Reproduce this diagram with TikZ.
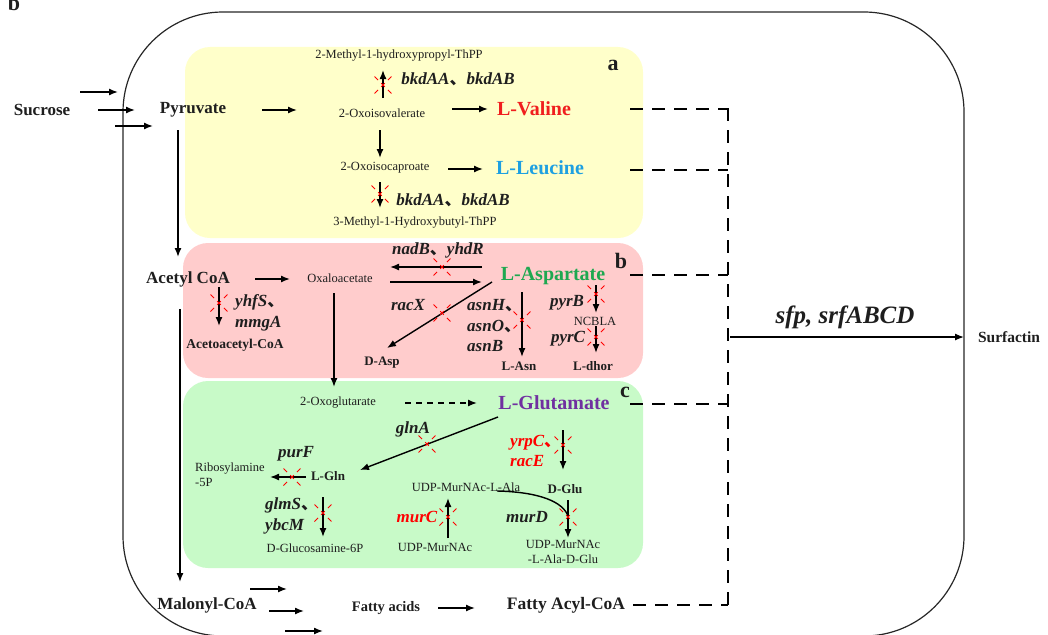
\documentclass[tikz,border=0pt]{standalone}
\usepackage{fontspec}
\setmainfont{Liberation Serif}
\newfontfamily\cjk{Noto Sans CJK SC}
\usetikzlibrary{arrows.meta}
\newcommand\myDun{{\cjk 、}}
\definecolor{boxY}{RGB}{255,255,202}
\definecolor{boxP}{RGB}{255,204,204}
\definecolor{boxG}{RGB}{200,250,200}
\definecolor{cVal}{RGB}{240,30,30}
\definecolor{cLeu}{RGB}{30,160,225}
\definecolor{cAsp}{RGB}{30,168,80}
\definecolor{cGlu}{RGB}{112,48,160}
\definecolor{txt}{RGB}{30,30,30}
\tikzset{
  arr/.style={draw=black, line width=1.4pt, -{Latex[length=9pt,width=7pt]}},
  dsh/.style={draw=black, line width=2.6pt, dash pattern=on 13pt off 9pt},
  sm/.style={font=\fontsize{12.5}{14}\selectfont, text=txt, inner sep=0pt},
  smb/.style={font=\fontsize{13}{15}\selectfont\bfseries, text=txt, inner sep=0pt},
  big/.style={font=\fontsize{17}{19}\selectfont\bfseries, text=txt, inner sep=0pt},
  aa/.style={font=\fontsize{20}{22}\selectfont\bfseries, inner sep=0pt},
  gene/.style={font=\fontsize{17}{20.5}\selectfont\bfseries\itshape, text=txt, inner sep=0pt, align=left},
  lett/.style={font=\fontsize{22}{24}\selectfont\bfseries, text=txt, inner sep=0pt},
  region/.style={rounded corners=25pt, draw=none},
  cut/.pic={\draw[red, line width=1pt, dash pattern=on 5pt off 4.5pt, dash phase=0pt] (-8.5,-8.5)--(8.5,8.5) (-8.5,8.5)--(8.5,-8.5);}
}
\begin{document}
\begin{tikzpicture}[x=1pt,y=-1pt]
\useasboundingbox (0,0) rectangle (1048,634);
% coloured regions
\fill[boxY, region] (185,47) rectangle (643,238);
\fill[boxP, region] (183,243) rectangle (643,378);
\fill[boxG, region] (183,381) rectangle (643,568);
% outer cell
\draw[line width=1.2pt, draw=black!85, rounded corners=100pt] (123,12) rectangle (964,636);

% partial panel letter (cut by the top edge)
\node[lett, anchor=base] (bl) at (14,11) {b};

% nodes
\node[big] (suc) at (42,110) {Sucrose};
\node[big] (pyr) at (193,110) {Pyruvate};
\node[sm] (mhp) at (399,56) {2-Methyl-1-hydroxypropyl-ThPP};
\node[lett] (la) at (613,65) {a};
\node[gene] (g1) at (458,79) {bkdAA\myDun bkdAB};
\node[sm] (oiv) at (382,113) {2-Oxoisovalerate};
\node[aa, text=cVal] (val) at (534,109) {L-Valine};
\node[sm] (oic) at (385,168) {2-Oxoisocaproate};
\node[aa, text=cLeu] (leu) at (540,168) {L-Leucine};
\node[gene] (g2) at (453,200) {bkdAA\myDun bkdAB};
\node[sm] (mhb) at (415,223) {3-Methyl-1-Hydroxybutyl-ThPP};

\node[big] (acc) at (188,279) {Acetyl CoA};
\node[sm] (oxa) at (340,278) {Oxaloacetate};
\node[aa, text=cAsp] (asp) at (553,276) {L-Aspartate};
\node[lett] (lb) at (621,261) {b};
\node[gene] (nad) at (438,250) {nadB\myDun yhdR};
\node[gene, anchor=west] (yhf) at (235,313) {yhfS\myDun\\mmgA};
\node[smb, font=\fontsize{13.5}{15}\selectfont\bfseries] (aca) at (235,345) {Acetoacetyl-CoA};
\node[smb] (dasp) at (382,363) {D-Asp};
\node[gene] (racx) at (408,305) {racX};
\node[gene, anchor=west] (asng) at (467,326) {asnH\myDun\\asnO\myDun\\asnB};
\node[smb] (lasn) at (519,366) {L-Asn};
\node[gene] (pyrb) at (567,303) {pyrB};
\node[sm] (ncbla) at (595,321) {NCBLA};
\node[gene] (pyrc) at (568,339) {pyrC};
\node[smb] (ldhor) at (593,366) {L-dhor};

\node[sm] (oxg) at (338,403) {2-Oxoglutarate};
\node[aa, text=cGlu] (glu) at (554,403) {L-Glutamate};
\node[lett] (lc) at (625,392) {c};
\node[gene] (glna) at (413,429) {glnA};
\node[gene, text=red, anchor=west] (yrpc) at (510,451) {yrpC\myDun\\racE};
\node[smb] (dglu) at (565,489) {D-Glu};
\node[sm] (uma) at (466,487) {UDP-MurNAc-L-Ala};
\node[gene] (murd) at (527,517) {murD};
\node[sm, align=center] (umag) at (563,552) {UDP-MurNAc\\[1pt]-L-Ala-D-Glu};
\node[gene, text=red] (murc) at (417,517) {murC};
\node[sm] (um) at (435,547) {UDP-MurNAc};
\node[gene] (purf) at (296,454) {purF};
\node[sm, align=left, anchor=west] (rib) at (195,475) {Ribosylamine\\[1pt]-5P};
\node[smb] (lgln) at (328,476) {L-Gln};
\node[gene, anchor=west] (glms) at (265,516) {glmS\myDun\\ybcM};
\node[sm] (dgl) at (315,548) {D-Glucosamine-6P};

\node[big] (mal) at (207,605) {Malonyl-CoA};
\node[big, font=\fontsize{14.5}{16}\selectfont\bfseries] (fa) at (386,608) {Fatty acids};
\node[big, font=\fontsize{17.5}{19}\selectfont\bfseries] (fac) at (566,605) {Fatty Acyl-CoA};
\node[big, font=\fontsize{15.5}{17}\selectfont\bfseries] (sur) at (1009,337) {Surfactin};
\node[font=\fontsize{25}{27}\selectfont\bfseries\itshape, text=txt, inner sep=0pt] (sfp) at (845,317) {sfp, srfABCD};

% sucrose arrows
\draw[arr] (80,92) -- (118,92);
\draw[arr] (98,110) -- (135,110);
\draw[arr] (115,126) -- (153,126);
\draw[arr] (262,110) -- (297,110);
\draw[arr] (178,130) -- (178,257);

% branched-chain
\draw[arr] (383,98) -- (383,70); \pic at (383,85) {cut};
\draw[arr] (452,109) -- (488,109);
\draw[arr] (380,130) -- (380,158);
\draw[arr] (448,169) -- (483,169);
\draw[arr] (380,182) -- (380,208); \pic at (380,194) {cut};

% aspartate region
\draw[arr] (255,279) -- (290,279);
\draw[arr] (219,287) -- (219,326); \pic at (219,303) {cut};
\draw[arr] (180,309) -- (180,582);
\draw[arr] (482,267) -- (390,267); \pic at (442,267) {cut};
\draw[arr] (390,282) -- (482,282);
\draw[arr] (334,293) -- (334,387);
\draw[arr] (492,282) -- (387,348); \pic at (442,313) {cut};
\draw[arr] (522,292) -- (522,357); \pic at (522,320) {cut};
\draw[arr] (596,285) -- (596,313); \pic at (596,294) {cut};
\draw[arr] (596,326) -- (596,353); \pic at (596,337) {cut};

% glutamate region
\draw[arr, dash pattern=on 6pt off 5pt] (405,403) -- (477,403);
\draw[arr] (498,417) -- (360,470); \pic at (427,444) {cut};
\draw[arr] (563,430) -- (563,470); \pic at (563,445) {cut};
\draw[arr] (306,477) -- (270,477); \pic at (292,477) {cut};
\draw[arr] (323,497) -- (323,537); \pic at (323,513) {cut};
\draw[arr] (448,538) -- (448,498); \pic at (448,517) {cut};
\draw[line width=1.4pt] (497,491) .. controls (540,492) and (563,502) .. (568,516);
\draw[arr] (568,500) -- (568,538); \pic at (568,517) {cut};

% fatty acids
\draw[arr] (250,589) -- (287,589);
\draw[arr] (269,611) -- (304,611);
\draw[arr] (285,631) -- (323,631);
\draw[arr] (438,608) -- (475,608);

% dashed collectors
\draw[dsh] (630,109) -- (728,109);
\draw[dsh] (630,170) -- (728,170);
\draw[dsh] (630,275) -- (728,275);
\draw[dsh] (630,404) -- (728,404);
\draw[dsh] (633,605) -- (728,605);
\draw[dsh] (728,108) -- (728,605);
\draw[line width=1.3pt, -{Latex[length=9pt,width=7pt]}] (730,337) -- (964,337);
\end{tikzpicture}
\end{document}
